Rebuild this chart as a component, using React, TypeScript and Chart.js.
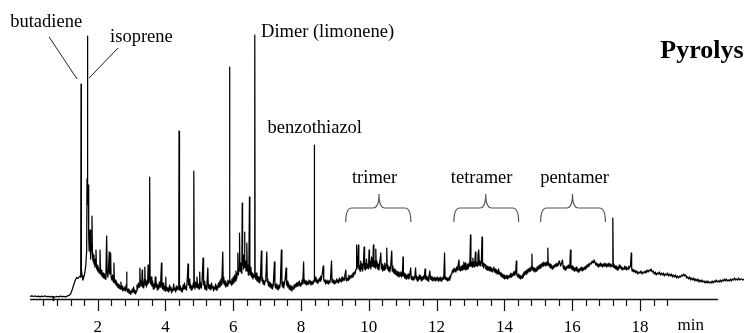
import React, { useEffect, useRef } from 'react';
import { Chart, registerables } from 'chart.js';

Chart.register(...registerables);

type Pt = [number, number];

// Retention time (min), detector response (arbitrary units)
const startTrace: Pt[] = [
  [0, 2.5], [0.05, 3.2], [0.1, 2.6], [0.15, 3.0], [0.2, 2.4], [0.25, 2.9], [0.3, 2.2], [0.35, 2.8], [0.4, 2.5], [0.45, 3.1],
  [0.5, 2.3], [0.55, 2.7], [0.6, 2.1], [0.65, 2.6], [0.68, 2.2], [0.69, -1.5], [0.7, 2.3], [0.75, 2.0], [0.8, 2.6], [0.85, 2.2],
  [0.9, 2.8], [0.95, 2.3], [1.0, 2.6], [1.05, 2.2], [1.1, 2.9], [1.15, 3.6], [1.2, 5], [1.25, 9.5], [1.3, 15], [1.34, 19],
  [1.38, 21.5], [1.42, 20.5], [1.46, 22.5], [1.49, 22],
];

const monomerTrace: Pt[] = [
  [1.5, 23], [1.509, 215], [1.518, 30], [1.54, 23], [1.565, 19], [1.59, 22], [1.62, 26], [1.65, 34], [1.675, 48], [1.685, 120],
  [1.694, 263], [1.703, 160], [1.712, 95], [1.724, 114], [1.735, 62], [1.75, 48], [1.765, 52], [1.774, 69], [1.785, 44], [1.8, 40],
  [1.815, 55], [1.832, 83], [1.845, 46], [1.86, 38], [1.875, 44], [1.89, 35], [1.905, 40], [1.92, 32], [1.935, 36], [1.95, 49],
  [1.965, 30], [1.98, 34], [2.0, 28], [2.02, 32], [2.04, 26], [2.068, 49], [2.085, 27], [2.1, 24], [2.12, 29], [2.14, 22],
  [2.16, 26], [2.18, 21], [2.2, 25], [2.22, 20], [2.245, 28], [2.265, 63], [2.28, 26], [2.3, 22], [2.32, 30], [2.341, 47],
  [2.355, 25], [2.37, 28], [2.382, 46], [2.395, 22], [2.42, 19], [2.44, 24], [2.46, 17], [2.479, 36], [2.495, 16], [2.52, 19],
  [2.54, 14], [2.56, 17], [2.58, 12],
];

const earlyTrace: Pt[] = [
  [2.6, 15], [2.62, 11], [2.64, 14], [2.66, 10], [2.685, 17], [2.7, 10], [2.72, 13], [2.74, 8], [2.76, 11], [2.78, 9],
  [2.8, 12], [2.82, 8], [2.84, 14], [2.853, 27], [2.865, 10], [2.88, 7], [2.9, 10], [2.92, 6], [2.94, 9], [2.96, 5],
  [2.98, 8], [3.0, 6], [3.02, 10], [3.04, 7], [3.06, 12], [3.08, 6], [3.1, 9], [3.12, 5], [3.14, 8], [3.16, 14],
  [3.18, 10], [3.2, 16], [3.22, 12], [3.244, 31], [3.26, 14], [3.28, 18], [3.3, 13], [3.312, 29], [3.325, 12], [3.34, 17],
  [3.36, 11], [3.375, 20], [3.391, 32], [3.405, 14], [3.42, 19], [3.44, 12], [3.46, 18], [3.475, 15], [3.488, 34], [3.5, 16],
  [3.52, 20], [3.53, 18], [3.538, 122], [3.546, 20], [3.56, 15], [3.58, 22], [3.6, 13], [3.62, 18], [3.64, 10], [3.66, 15],
  [3.68, 11], [3.7, 22], [3.72, 12], [3.74, 16], [3.76, 9], [3.78, 14], [3.8, 10], [3.82, 17], [3.84, 12], [3.86, 18],
  [3.882, 36], [3.895, 14], [3.91, 10], [3.93, 16], [3.95, 9], [3.97, 13], [3.99, 8], [4.009, 22], [4.02, 9],
];

const midTrace: Pt[] = [
  [4.04, 12], [4.06, 8], [4.08, 11], [4.1, 7], [4.12, 14], [4.14, 9], [4.16, 12], [4.18, 6], [4.2, 10], [4.22, 8],
  [4.24, 15], [4.26, 9], [4.28, 11], [4.3, 7], [4.32, 13], [4.34, 9], [4.36, 12], [4.38, 10], [4.392, 14], [4.4, 168],
  [4.408, 12], [4.42, 9], [4.44, 13], [4.46, 8], [4.48, 11], [4.5, 7], [4.52, 14], [4.54, 10], [4.56, 16], [4.58, 10],
  [4.6, 13], [4.62, 9], [4.64, 18], [4.665, 35], [4.68, 14], [4.7, 20], [4.72, 11], [4.74, 15], [4.76, 9], [4.78, 13],
  [4.8, 10], [4.82, 16], [4.832, 12], [4.841, 128], [4.85, 14], [4.87, 10], [4.89, 17], [4.91, 12], [4.93, 22], [4.95, 11],
  [4.97, 15], [4.99, 10], [5.01, 27], [5.025, 12], [5.04, 16], [5.06, 11], [5.08, 19], [5.11, 41], [5.125, 14], [5.14, 18],
  [5.16, 10], [5.18, 14], [5.2, 9], [5.22, 13], [5.25, 31], [5.265, 11], [5.28, 15], [5.3, 10], [5.32, 14], [5.34, 9],
  [5.36, 16], [5.38, 11], [5.4, 13], [5.42, 8], [5.44, 12], [5.46, 10], [5.48, 15], [5.5, 9], [5.52, 13], [5.54, 10],
  [5.56, 16], [5.58, 12], [5.6, 18], [5.62, 13], [5.64, 20], [5.66, 14], [5.69, 47], [5.705, 16], [5.72, 22], [5.74, 14],
  [5.76, 18], [5.78, 12], [5.8, 16], [5.82, 13], [5.84, 19], [5.86, 15], [5.882, 18], [5.891, 232], [5.9, 16],
];

const dimerTrace: Pt[] = [
  [5.92, 18], [5.94, 14], [5.96, 20], [5.98, 15], [6.0, 22], [6.02, 16], [6.04, 24], [6.06, 18], [6.08, 28], [6.1, 20],
  [6.12, 26], [6.135, 46], [6.15, 24], [6.17, 30], [6.185, 66], [6.2, 28], [6.22, 36], [6.24, 26], [6.255, 40], [6.265, 96],
  [6.275, 34], [6.29, 44], [6.305, 30], [6.32, 40], [6.332, 67], [6.345, 32], [6.36, 38], [6.375, 28], [6.39, 34], [6.4, 56],
  [6.415, 28], [6.43, 34], [6.445, 24], [6.46, 30], [6.479, 102], [6.49, 30], [6.505, 24], [6.52, 32], [6.54, 22], [6.56, 26],
  [6.58, 20], [6.6, 24], [6.62, 22], [6.635, 264], [6.645, 24], [6.66, 20], [6.68, 26],
];

const lateTrace: Pt[] = [
  [6.7, 18], [6.72, 23], [6.74, 17], [6.76, 22], [6.78, 16], [6.8, 20], [6.83, 48], [6.845, 18], [6.86, 22], [6.88, 15],
  [6.9, 19], [6.92, 14], [6.94, 18], [6.96, 21], [6.99, 47], [7.005, 17], [7.02, 20], [7.04, 13], [7.06, 17], [7.08, 12],
  [7.1, 16], [7.12, 11], [7.14, 15], [7.16, 10], [7.18, 14], [7.215, 37], [7.23, 14], [7.25, 11], [7.27, 15], [7.29, 10],
  [7.31, 13], [7.33, 9], [7.35, 14], [7.37, 11], [7.39, 16], [7.42, 49], [7.435, 15], [7.45, 12], [7.47, 17], [7.49, 11],
  [7.51, 15], [7.53, 20], [7.559, 31], [7.575, 14], [7.59, 18], [7.61, 12], [7.63, 16], [7.65, 10], [7.67, 14], [7.69, 9],
  [7.71, 13], [7.73, 8], [7.75, 12], [7.77, 10], [7.79, 14], [7.81, 11], [7.83, 15], [7.85, 12], [7.87, 16], [7.89, 13],
  [7.91, 17], [7.93, 14], [7.95, 18], [7.97, 13], [7.99, 16], [8.01, 14], [8.03, 19], [8.05, 15], [8.076, 37], [8.09, 16],
  [8.11, 19], [8.13, 15], [8.15, 18], [8.17, 14], [8.19, 17], [8.21, 15], [8.23, 19], [8.25, 16], [8.27, 18], [8.29, 14],
  [8.31, 17], [8.33, 15], [8.35, 18], [8.37, 16], [8.383, 19], [8.391, 154], [8.4, 18], [8.42, 22], [8.44, 17], [8.46, 20],
  [8.48, 16], [8.5, 19], [8.52, 17], [8.54, 21], [8.56, 18], [8.58, 23], [8.6, 19], [8.62, 24], [8.656, 33], [8.67, 20],
  [8.69, 17], [8.71, 19], [8.73, 15], [8.75, 18], [8.77, 16], [8.79, 19], [8.81, 15], [8.83, 18], [8.85, 16], [8.87, 20],
  [8.9, 38], [8.915, 17], [8.93, 20], [8.95, 16], [8.97, 19], [8.99, 15], [9.01, 18], [9.03, 16], [9.05, 20], [9.07, 17],
  [9.09, 19], [9.11, 16], [9.13, 21], [9.15, 18], [9.17, 20], [9.19, 17], [9.21, 22], [9.23, 18], [9.25, 21], [9.27, 19],
  [9.29, 23], [9.32, 29], [9.335, 20], [9.35, 18], [9.37, 21], [9.39, 19], [9.41, 24], [9.43, 20], [9.45, 23], [9.47, 21],
  [9.49, 24], [9.51, 22], [9.53, 26], [9.55, 23], [9.57, 27], [9.59, 25],
];

const trimerTrace: Pt[] = [
  [9.61, 28], [9.625, 30], [9.635, 54], [9.645, 30], [9.665, 32], [9.694, 54], [9.705, 30], [9.72, 34], [9.74, 28], [9.76, 38],
  [9.78, 30], [9.8, 35], [9.82, 28], [9.84, 36], [9.862, 52], [9.875, 30], [9.89, 36], [9.91, 29], [9.93, 40], [9.95, 31],
  [9.97, 35], [9.99, 30], [10.009, 49], [10.02, 32], [10.04, 38], [10.06, 30], [10.08, 42], [10.1, 33], [10.12, 36], [10.135, 54],
  [10.15, 32], [10.17, 38], [10.19, 31], [10.206, 50], [10.22, 33], [10.24, 38], [10.26, 30], [10.28, 35], [10.3, 29], [10.32, 36],
  [10.353, 46], [10.37, 30], [10.39, 35], [10.41, 28], [10.43, 33], [10.45, 29], [10.47, 36], [10.49, 30], [10.51, 34], [10.529, 51],
  [10.545, 30], [10.56, 34], [10.58, 28], [10.6, 32], [10.62, 27], [10.64, 31], [10.676, 48], [10.69, 28], [10.71, 33], [10.73, 26],
  [10.75, 30], [10.77, 25], [10.79, 29], [10.81, 24], [10.83, 28], [10.85, 23], [10.87, 27], [10.89, 22], [10.91, 26], [10.93, 23],
  [10.95, 27], [10.97, 22], [10.99, 25], [11.009, 42], [11.02, 23], [11.04, 26], [11.06, 21], [11.08, 25], [11.1, 20], [11.12, 24],
  [11.14, 21], [11.16, 25], [11.18, 20], [11.2, 23], [11.235, 31], [11.25, 20], [11.27, 23], [11.29, 19],
];

const gapTrace: Pt[] = [
  [11.31, 22], [11.33, 19], [11.36, 23], [11.38, 31], [11.395, 20], [11.41, 23], [11.43, 18], [11.45, 22], [11.47, 19], [11.49, 24],
  [11.51, 20], [11.53, 23], [11.55, 18], [11.57, 22], [11.59, 19], [11.61, 23], [11.63, 20], [11.66, 30], [11.675, 20], [11.69, 23],
  [11.71, 19], [11.73, 22], [11.75, 18], [11.77, 22], [11.8, 28], [11.815, 20], [11.83, 23], [11.85, 19], [11.87, 22], [11.89, 18],
  [11.91, 21], [11.93, 19], [11.95, 22], [11.97, 18], [11.99, 21], [12.01, 19], [12.03, 22], [12.05, 18], [12.07, 21], [12.09, 19],
  [12.11, 22], [12.13, 18], [12.15, 21], [12.17, 19], [12.19, 22], [12.21, 20], [12.235, 46], [12.25, 20], [12.27, 22], [12.29, 19],
  [12.31, 21], [12.33, 18], [12.35, 21], [12.37, 19], [12.39, 23], [12.41, 21], [12.43, 25],
];

const tetramerTrace: Pt[] = [
  [12.45, 26], [12.47, 29], [12.49, 27], [12.51, 31], [12.53, 28], [12.55, 30], [12.57, 27], [12.59, 32], [12.61, 29], [12.63, 33],
  [12.66, 39], [12.675, 29], [12.69, 32], [12.71, 28], [12.73, 33], [12.75, 29], [12.77, 34], [12.79, 30], [12.803, 37], [12.815, 30],
  [12.83, 33], [12.85, 36], [12.865, 29], [12.88, 34], [12.9, 30], [12.92, 35], [12.94, 31], [12.96, 36], [12.98, 33], [13.0, 64],
  [13.012, 33], [13.03, 37], [13.05, 32], [13.07, 41], [13.085, 33], [13.1, 37], [13.12, 32], [13.147, 47], [13.16, 33], [13.18, 37],
  [13.2, 33], [13.22, 44], [13.244, 49], [13.26, 34], [13.28, 38], [13.3, 33], [13.32, 37], [13.341, 62], [13.355, 33], [13.37, 36],
  [13.39, 31], [13.41, 35], [13.44, 34], [13.455, 30], [13.47, 33], [13.49, 29], [13.51, 33], [13.53, 29], [13.55, 32], [13.57, 28],
  [13.59, 32], [13.61, 28], [13.63, 31], [13.65, 27], [13.67, 30], [13.69, 32], [13.71, 27], [13.73, 30], [13.75, 26], [13.77, 29],
  [13.79, 25], [13.81, 28], [13.83, 30], [13.85, 25], [13.87, 27], [13.89, 23], [13.91, 26], [13.93, 22], [13.95, 25], [13.97, 21],
  [13.99, 24], [14.01, 20], [14.03, 23], [14.05, 21], [14.07, 24], [14.09, 20], [14.11, 23], [14.13, 21], [14.15, 24], [14.17, 22],
  [14.19, 26], [14.21, 22], [14.23, 25], [14.25, 23], [14.27, 27], [14.29, 24], [14.31, 28], [14.33, 25], [14.353, 38], [14.365, 25],
  [14.38, 23],
];

const pentamerTrace: Pt[] = [
  [14.4, 22], [14.42, 25], [14.44, 21], [14.46, 24], [14.48, 20], [14.5, 23], [14.52, 21], [14.54, 25], [14.56, 22], [14.58, 27],
  [14.6, 24], [14.62, 28], [14.64, 25], [14.66, 29], [14.68, 26], [14.7, 30], [14.72, 27], [14.74, 31], [14.76, 28], [14.78, 30],
  [14.8, 33], [14.812, 45], [14.825, 29], [14.84, 32], [14.86, 28], [14.88, 31], [14.9, 27], [14.92, 30], [14.94, 28], [14.96, 32],
  [14.98, 29], [15.0, 33], [15.02, 30], [15.04, 34], [15.06, 31], [15.08, 35], [15.1, 32], [15.12, 36], [15.14, 33], [15.16, 37],
  [15.18, 34], [15.2, 36], [15.22, 33], [15.24, 37], [15.26, 34], [15.282, 51], [15.295, 34], [15.31, 36], [15.33, 32], [15.35, 35],
  [15.37, 31], [15.39, 34], [15.41, 30], [15.43, 33], [15.45, 31], [15.47, 34], [15.49, 32], [15.51, 35], [15.53, 33], [15.55, 36],
  [15.57, 33], [15.59, 34], [15.615, 38], [15.63, 37], [15.66, 33], [15.69, 36], [15.715, 39], [15.73, 33], [15.75, 30], [15.77, 33],
  [15.79, 29], [15.81, 32], [15.83, 30], [15.85, 33], [15.87, 31], [15.89, 34], [15.91, 31], [15.93, 33], [15.95, 49], [15.965, 32],
  [15.98, 30], [16.0, 33], [16.02, 29], [16.04, 32], [16.06, 28], [16.08, 31], [16.1, 29], [16.12, 32], [16.14, 28], [16.16, 30],
  [16.18, 27], [16.2, 30], [16.22, 28], [16.24, 31], [16.26, 29], [16.28, 32], [16.3, 28], [16.32, 31], [16.34, 29], [16.36, 32],
  [16.38, 30], [16.4, 33], [16.42, 31], [16.44, 34], [16.46, 32], [16.48, 35], [16.5, 33], [16.53, 36], [16.56, 35], [16.59, 38],
  [16.62, 36], [16.65, 39], [16.68, 36], [16.7, 34], [16.72, 36], [16.74, 33], [16.76, 35], [16.78, 32], [16.8, 35], [16.82, 33],
  [16.84, 36], [16.86, 33], [16.88, 35], [16.9, 32], [16.92, 35], [16.94, 33], [16.96, 36], [16.98, 33], [17.0, 35], [17.02, 32],
  [17.04, 35], [17.06, 33], [17.08, 36], [17.1, 33], [17.12, 35], [17.14, 32], [17.16, 34], [17.185, 33], [17.2, 81], [17.212, 32],
  [17.23, 35], [17.25, 31], [17.27, 33], [17.29, 30], [17.31, 33], [17.33, 29], [17.35, 32], [17.37, 30], [17.39, 34], [17.41, 31],
  [17.43, 33], [17.45, 30], [17.47, 32], [17.49, 29], [17.51, 31], [17.53, 30], [17.55, 33], [17.57, 30], [17.59, 32], [17.61, 29],
  [17.63, 31], [17.65, 30], [17.67, 33], [17.69, 31], [17.72, 33], [17.744, 46], [17.755, 31], [17.77, 28],
];

const tailTrace: Pt[] = [
  [17.79, 30], [17.82, 27], [17.85, 29], [17.88, 26], [17.91, 28], [17.94, 25], [17.97, 27], [18.0, 26], [18.03, 28], [18.06, 25],
  [18.09, 27], [18.12, 26], [18.15, 28], [18.18, 26], [18.21, 29], [18.24, 27], [18.27, 29], [18.3, 28], [18.33, 30], [18.36, 27],
  [18.39, 28], [18.42, 25], [18.45, 27], [18.48, 24], [18.51, 26], [18.54, 25], [18.57, 27], [18.6, 24], [18.63, 26], [18.66, 24],
  [18.69, 26], [18.72, 23], [18.75, 25], [18.78, 24], [18.81, 26], [18.84, 23], [18.87, 25], [18.9, 23], [18.93, 25], [18.96, 22],
  [18.99, 24], [19.02, 22], [19.05, 24], [19.08, 21], [19.11, 23], [19.14, 21], [19.17, 23], [19.2, 22], [19.23, 24], [19.26, 23],
  [19.29, 25], [19.32, 23], [19.35, 24], [19.38, 21], [19.41, 22], [19.44, 20], [19.47, 22], [19.5, 19], [19.53, 21], [19.56, 19],
  [19.59, 21], [19.62, 18], [19.65, 20], [19.68, 18], [19.71, 20], [19.74, 17], [19.77, 19], [19.8, 17], [19.83, 19], [19.86, 17],
  [19.89, 18], [19.92, 16], [19.95, 18], [19.98, 16], [20.01, 18], [20.04, 16], [20.07, 17], [20.1, 16], [20.13, 18], [20.16, 16],
  [20.19, 18], [20.22, 17], [20.25, 19], [20.28, 17], [20.31, 18], [20.34, 17], [20.37, 19], [20.4, 17], [20.43, 19], [20.46, 18],
  [20.49, 20], [20.52, 18], [20.55, 20], [20.58, 18], [20.61, 19], [20.64, 18], [20.67, 20], [20.7, 18], [20.73, 20], [20.76, 19],
  [20.79, 21], [20.82, 19], [20.85, 20], [20.88, 19], [20.91, 21], [20.94, 19], [20.97, 20], [21.0, 20], [21.04, 19], [21.07, 20],
];

// Axis
const timeMin = 0;
const timeMax = 21.07;
const responseMax = 299;
const majorTicks = [2, 4, 6, 8, 10, 12, 14, 16, 18];
const minorTickStep = 0.4;
const minorTickEnd = 18.8;
const axisEnd = 20.3;
const axisUnit = 'min';
const axisUnitTime = 19.5;

// Annotations (retention time, response)
const peakLabels = ['butadiene', 'isoprene', 'Dimer (limonene)', 'benzothiazol', 'trimer', 'tetramer', 'pentamer'];
const labelTimes = [0.48, 2.365, 6.82, 7.01, 10.17, 13.33, 16.07];
const labelLevels = [272, 257, 262, 166, 116, 116, 116];
const labelAligns = ['center', 'left', 'left', 'left', 'center', 'center', 'center'];
const leaderFrom: Pt[] = [[0.568, 262], [2.6, 251]];
const leaderTo: Pt[] = [[1.391, 220], [1.747, 221]];
const braceStart = [9.32, 12.51, 15.07];
const braceEnd = [11.24, 14.42, 16.98];
const braceApex = [10.3, 13.45, 16.01];
const braceLevels = [105, 91, 77]; // apex, bar, feet
const titleText = 'Pyrolysis';
const titlePos: Pt = [18.6, 241];

const SERIF = '"Liberation Serif", "Times New Roman", serif';
const LABEL_FONT_SIZE = 18.5;
const TITLE_FONT_SIZE = 26;
const TICK_FONT_SIZE = 17;
const MAJOR_TICK_LEN = 12;
const MINOR_TICK_LEN = 7;
const LABEL_GAP = 6;

const annotationPlugin = {
  id: 'chromAnnotations',
  afterDraw(chart: any) {
    const { ctx, chartArea } = chart;
    const x = chart.scales.x;
    const y = chart.scales.y;
    const yb = chartArea.bottom;
    ctx.save();

    // axis line
    ctx.strokeStyle = '#111';
    ctx.lineWidth = 1.5;
    ctx.beginPath();
    ctx.moveTo(x.getPixelForValue(timeMin), yb + 0.5);
    ctx.lineTo(x.getPixelForValue(axisEnd), yb + 0.5);
    ctx.stroke();

    // major & minor ticks
    ctx.lineWidth = 1.2;
    const nMinor = Math.round(minorTickEnd / minorTickStep);
    for (let i = 1; i <= nMinor; i++) {
      const t = i * minorTickStep;
      const isMajor = majorTicks.some((m) => Math.abs(m - t) < 1e-6);
      const px = Math.round(x.getPixelForValue(t)) + 0.5;
      ctx.beginPath();
      ctx.moveTo(px, yb);
      ctx.lineTo(px, yb + (isMajor ? MAJOR_TICK_LEN : MINOR_TICK_LEN));
      ctx.stroke();
    }

    // unit label
    ctx.fillStyle = '#000';
    ctx.font = `${TICK_FONT_SIZE}px ${SERIF}`;
    ctx.textAlign = 'center';
    ctx.textBaseline = 'top';
    ctx.fillText(axisUnit, x.getPixelForValue(axisUnitTime), yb + MAJOR_TICK_LEN + LABEL_GAP);

    // peak labels
    ctx.font = `${LABEL_FONT_SIZE}px ${SERIF}`;
    ctx.textBaseline = 'alphabetic';
    peakLabels.forEach((txt, i) => {
      ctx.textAlign = labelAligns[i];
      ctx.fillText(txt, x.getPixelForValue(labelTimes[i]), y.getPixelForValue(labelLevels[i]));
    });

    // leader lines
    ctx.strokeStyle = '#222';
    ctx.lineWidth = 1;
    leaderFrom.forEach((p, i) => {
      const q = leaderTo[i];
      ctx.beginPath();
      ctx.moveTo(x.getPixelForValue(p[0]), y.getPixelForValue(p[1]));
      ctx.lineTo(x.getPixelForValue(q[0]), y.getPixelForValue(q[1]));
      ctx.stroke();
    });

    // braces
    ctx.strokeStyle = '#555';
    ctx.lineWidth = 1.2;
    const yTop = y.getPixelForValue(braceLevels[0]);
    const yBar = y.getPixelForValue(braceLevels[1]);
    const yFoot = y.getPixelForValue(braceLevels[2]);
    braceStart.forEach((s, i) => {
      const xl = x.getPixelForValue(s);
      const xr = x.getPixelForValue(braceEnd[i]);
      const xa = x.getPixelForValue(braceApex[i]);
      const r = 6;
      ctx.beginPath();
      ctx.moveTo(xl, yFoot);
      ctx.quadraticCurveTo(xl, yBar, xl + r, yBar);
      ctx.lineTo(xa - r, yBar);
      ctx.quadraticCurveTo(xa, yBar, xa, yTop);
      ctx.quadraticCurveTo(xa, yBar, xa + r, yBar);
      ctx.lineTo(xr - r, yBar);
      ctx.quadraticCurveTo(xr, yBar, xr, yFoot);
      ctx.stroke();
    });

    // title (runs off the right edge)
    ctx.fillStyle = '#000';
    ctx.font = `bold ${TITLE_FONT_SIZE}px ${SERIF}`;
    ctx.textAlign = 'left';
    ctx.fillText(titleText, x.getPixelForValue(titlePos[0]), y.getPixelForValue(titlePos[1]));

    ctx.restore();
  },
};

export default function App() {
  const canvasRef = useRef<HTMLCanvasElement | null>(null);

  useEffect(() => {
    const canvas = canvasRef.current;
    if (!canvas) return;
    const trace = [
      ...startTrace, ...monomerTrace, ...earlyTrace, ...midTrace, ...dimerTrace, ...lateTrace,
      ...trimerTrace, ...gapTrace, ...tetramerTrace, ...pentamerTrace, ...tailTrace,
    ].map(([t, v]) => ({ x: t, y: v }));

    const chart = new Chart(canvas, {
      type: 'line',
      data: {
        datasets: [
          {
            data: trace,
            borderColor: '#000',
            borderWidth: 1.25,
            pointRadius: 0,
            tension: 0,
            borderJoinStyle: 'round',
            clip: false,
          } as any,
        ],
      },
      options: {
        responsive: false,
        animation: false,
        events: [],
        layout: { padding: { left: 29.9, right: 0, top: 0, bottom: 0 } },
        plugins: { legend: { display: false }, tooltip: { enabled: false }, title: { display: false } },
        scales: {
          x: {
            type: 'linear',
            min: timeMin,
            max: timeMax,
            afterFit: (scale: any) => {
              scale.height = 34;
            },
            border: { display: false },
            grid: {
              drawOnChartArea: false,
              drawTicks: true,
              tickLength: MAJOR_TICK_LEN + LABEL_GAP,
              color: 'rgba(0,0,0,0)',
            },
            ticks: {
              stepSize: 2,
              autoSkip: false,
              maxRotation: 0,
              padding: 0,
              color: '#000',
              font: { family: SERIF, size: TICK_FONT_SIZE },
              callback: (v: any) => (majorTicks.includes(Number(v)) ? String(v) : ''),
            },
          },
          y: {
            display: false,
            min: 0,
            max: responseMax,
          },
        },
      },
      plugins: [annotationPlugin],
    });
    return () => chart.destroy();
  }, []);

  return (
    <div style={{ position: 'absolute', left: 0, top: 0, width: 744, height: 333, background: '#fff' }}>
      <canvas ref={canvasRef} width={744} height={333} style={{ width: 744, height: 333, display: 'block' }} />
    </div>
  );
}
